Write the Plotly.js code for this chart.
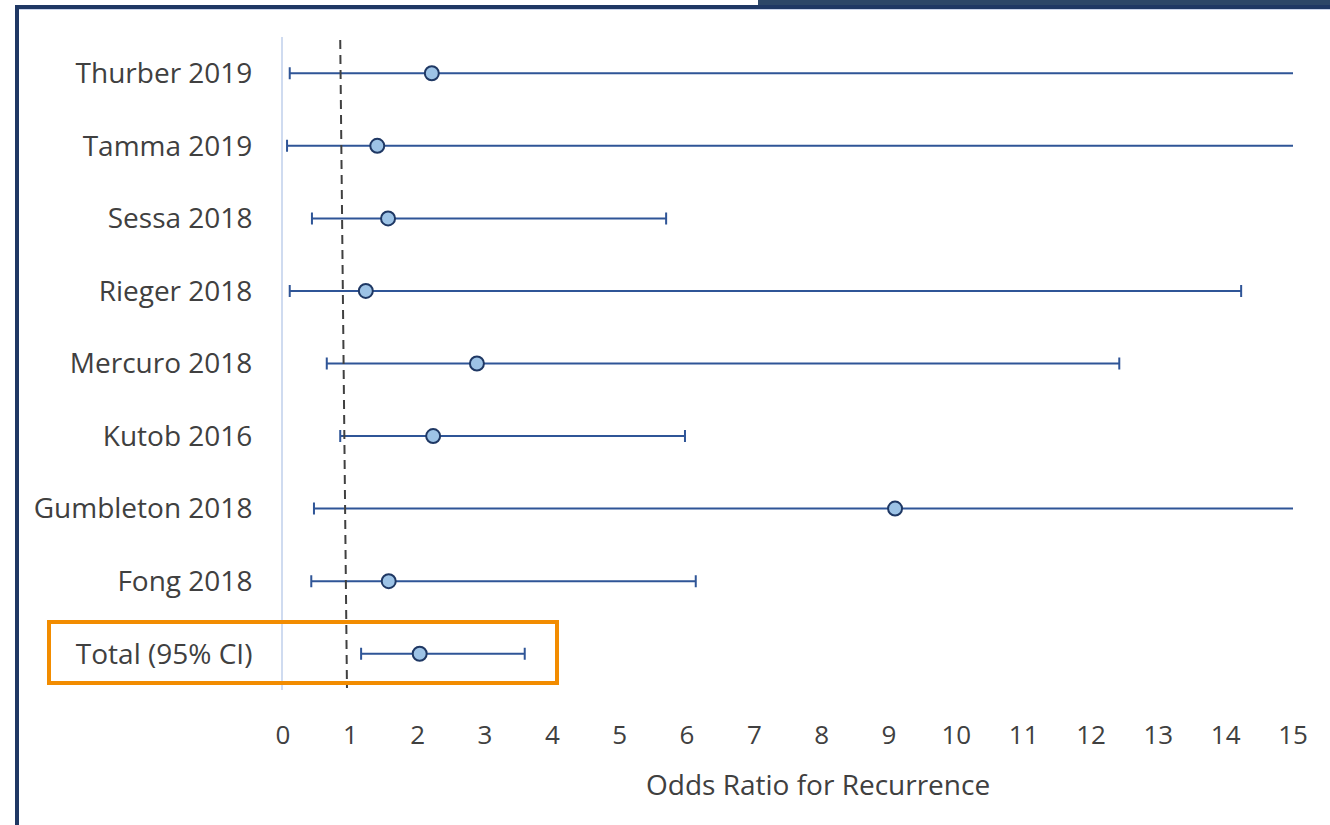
<!DOCTYPE html>
<html>
<head>
<meta charset="utf-8">
<script src="https://cdn.plot.ly/plotly-3.0.1.min.js"></script>
<style>
html,body{margin:0;padding:0;background:#fff;}
#chart{width:1330px;height:825px;}
</style>
</head>
<body>
<div id="chart"></div>
<script>
const studies = ["Thurber 2019","Tamma 2019","Sessa 2018","Rieger 2018","Mercuro 2018","Kutob 2016","Gumbleton 2018","Fong 2018","Total (95% CI)"];
const oddsRatio = [2.21, 1.40, 1.56, 1.23, 2.88, 2.23, 9.09, 1.57, 2.03];
const ciLower   = [0.10, 0.06, 0.43, 0.10, 0.65, 0.85, 0.46, 0.42, 1.16];
const ciUpper   = [20.0, 20.0, 5.69, 14.23, 12.42, 5.97, 20.0, 6.13, 3.59];
const xTicks = [0,1,2,3,4,5,6,7,8,9,10,11,12,13,14,15];
const xTitle = 'Odds Ratio for Recurrence';

const W = 1330, H = 825;
const L = 283, R = 37, T = 37, B = 135;
const pw = W - L - R, ph = H - T - B;
const px = x => (x - L) / pw;
const py = y => (H - B - y) / ph;

const FONT = '"Open Sans", Lato, sans-serif';

const trace = {
  type: 'scatter',
  mode: 'markers',
  x: oddsRatio,
  y: studies,
  marker: {size: 14, color: '#9dc3e6', line: {color: '#1f3864', width: 2}},
  error_x: {
    type: 'data', symmetric: false,
    array: oddsRatio.map((v, i) => ciUpper[i] - v),
    arrayminus: oddsRatio.map((v, i) => v - ciLower[i]),
    color: '#2f5597', thickness: 2, width: 6
  },
  cliponaxis: true,
  hoverinfo: 'x+y'
};

const shapes = [
  {type: 'line', xref: 'x', yref: 'paper', x0: 0.85, x1: 0.95, y0: py(40), y1: py(688),
   line: {color: '#404040', width: 2, dash: '9px,6px'}},
  {type: 'rect', xref: 'paper', yref: 'paper', x0: px(49), x1: px(557), y0: py(683), y1: py(622),
   line: {color: '#f28c00', width: 4}, fillcolor: 'rgba(0,0,0,0)'},
  {type: 'rect', xref: 'paper', yref: 'paper', x0: px(758), x1: px(1330), y0: py(0), y1: py(5),
   line: {width: 0}, fillcolor: '#2d4768', layer: 'above'},
  {type: 'line', xref: 'paper', yref: 'paper', x0: px(15), x1: px(1330), y0: py(7), y1: py(7),
   line: {color: '#1f3864', width: 4}},
  {type: 'line', xref: 'paper', yref: 'paper', x0: px(15), x1: px(1330), y0: py(9.5), y1: py(9.5),
   line: {color: '#c9d3ea', width: 1}},
  {type: 'line', xref: 'paper', yref: 'paper', x0: px(17), x1: px(17), y0: py(5), y1: py(825),
   line: {color: '#1f3864', width: 4}}
];

const layout = {
  width: W, height: H,
  margin: {l: L, r: R, t: T, b: B, pad: 0},
  paper_bgcolor: '#ffffff', plot_bgcolor: '#ffffff',
  showlegend: false,
  font: {family: FONT, color: '#404040'},
  xaxis: {
    range: [0, 15], tickvals: xTicks, ticktext: xTicks.map(String),
    showgrid: false, zeroline: false, showline: false,
    ticks: 'outside', ticklen: 22, tickcolor: 'rgba(0,0,0,0)',
    tickfont: {size: 26, family: FONT, color: '#404040'}
  },
  yaxis: {
    type: 'category', categoryorder: 'array', categoryarray: studies,
    range: [8.5, -0.5],
    showgrid: false, zeroline: false,
    showline: true, linecolor: '#cfdbf0', linewidth: 2,
    ticks: 'outside', ticklen: 23, tickcolor: 'rgba(0,0,0,0)',
    tickfont: {size: 28, family: FONT, color: '#404040'}
  },
  annotations: [
    {text: xTitle, xref: 'paper', yref: 'paper', x: px(818), y: py(784),
     xanchor: 'center', yanchor: 'middle', showarrow: false,
     font: {size: 28, family: FONT, color: '#404040'}}
  ],
  shapes: shapes
};

Plotly.newPlot('chart', [trace], layout, {displayModeBar: false, staticPlot: true});
</script>
</body>
</html>
